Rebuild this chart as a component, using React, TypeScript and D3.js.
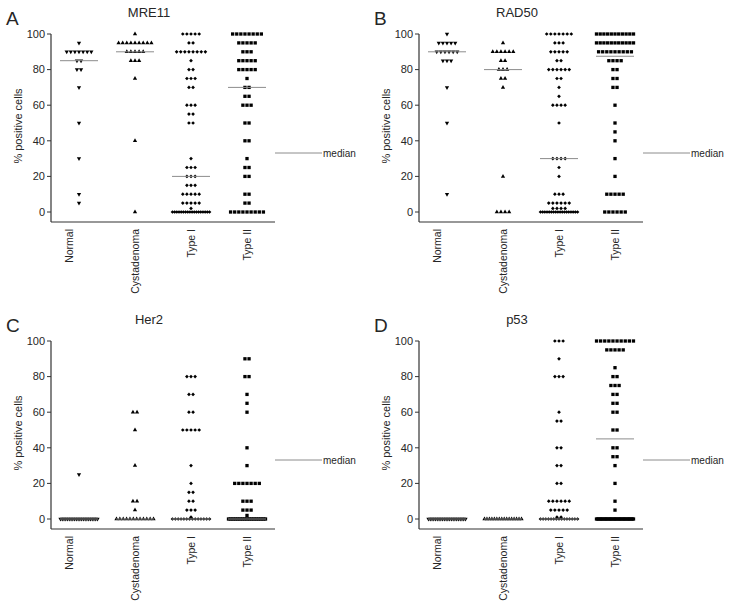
import React from "react";
import * as d3 from "d3";

const categories = ["Normal", "Cystadenoma", "Type I", "Type II"];
const yTicks = [0, 20, 40, 60, 80, 100];
const panelLetters = ["A", "B", "C", "D"];
const panelTitles = ["MRE11", "RAD50", "Her2", "p53"];

// rows: [value (% positive cells), number of cases at that value]
const mre11Normal = [[95, 1], [90, 7], [85, 2], [80, 2], [70, 1], [50, 1], [30, 1], [10, 1], [5, 1]];
const mre11Cyst = [[100, 1], [95, 9], [90, 5], [85, 3], [75, 1], [40, 1], [0, 1]];
const mre11TypeI = [[100, 5], [95, 2], [90, 8], [85, 1], [80, 2], [75, 3], [70, 2], [60, 3], [55, 2], [50, 2], [30, 1], [25, 3], [20, 3], [15, 3], [10, 5], [5, 5], [2, 1], [0, 18]];
const mre11TypeII = [[100, 8], [95, 5], [90, 3], [85, 5], [80, 5], [75, 1], [70, 2], [65, 2], [60, 3], [50, 2], [40, 2], [30, 1], [25, 2], [20, 2], [10, 2], [5, 2], [0, 9]];
const mre11Medians = [85, 90, 20, 70];

const rad50Normal = [[100, 1], [95, 5], [90, 6], [85, 3], [70, 1], [50, 1], [10, 1]];
const rad50Cyst = [[95, 1], [90, 6], [85, 2], [80, 3], [75, 2], [70, 1], [20, 1], [0, 4]];
const rad50TypeI = [[100, 7], [95, 3], [90, 5], [85, 2], [80, 6], [75, 2], [70, 1], [65, 1], [60, 4], [50, 1], [30, 4], [25, 1], [20, 1], [10, 3], [5, 6], [2, 4], [0, 18]];
const rad50TypeII = [[100, 11], [95, 11], [90, 9], [85, 4], [80, 2], [75, 2], [70, 2], [60, 1], [50, 1], [45, 1], [40, 1], [30, 1], [20, 1], [10, 5], [0, 6]];
const rad50Medians = [90, 80, 30, 87.5];

const her2Normal = [[25, 1], [0, 22]];
const her2Cyst = [[60, 2], [50, 1], [30, 1], [10, 2], [5, 1], [0, 12]];
const her2TypeI = [[80, 3], [70, 2], [60, 2], [50, 5], [30, 1], [20, 1], [15, 2], [10, 2], [5, 3], [1, 1], [0, 14]];
const her2TypeII = [[90, 2], [80, 2], [70, 1], [65, 1], [60, 1], [40, 1], [30, 1], [20, 7], [10, 3], [5, 3], [2, 1], [0, 22]];
const her2Medians = [0, 0, 0, 0];

const p53Normal = [[0, 22]];
const p53Cyst = [[0, 16]];
const p53TypeI = [[100, 3], [90, 1], [80, 3], [60, 1], [55, 2], [40, 2], [30, 2], [20, 2], [10, 6], [5, 5], [1, 2], [0, 15]];
const p53TypeII = [[100, 10], [95, 5], [85, 1], [80, 2], [75, 3], [70, 2], [65, 2], [60, 2], [50, 2], [40, 2], [35, 2], [30, 1], [20, 1], [10, 1], [5, 1], [0, 30]];
const p53Medians = [0, 0, 0, 45];

const panelGroups = [
  [mre11Normal, mre11Cyst, mre11TypeI, mre11TypeII],
  [rad50Normal, rad50Cyst, rad50TypeI, rad50TypeII],
  [her2Normal, her2Cyst, her2TypeI, her2TypeII],
  [p53Normal, p53Cyst, p53TypeI, p53TypeII],
];
const panelMedians = [mre11Medians, rad50Medians, her2Medians, p53Medians];

const FONT = "'Liberation Sans', Arial, sans-serif";
const TEXT = "#262626";

const offsets = [
  [0, 0],
  [368, 0],
  [0, 307],
  [368, 307],
];

const triSym = d3.symbol().type(d3.symbolTriangle).size(8)();
const sqSym = d3.symbol().type(d3.symbolSquare).size(11)();
const diaSym = d3.symbol().type(d3.symbolSquare).size(7)();

function Marker({ cat, x, y }: { cat: number; x: number; y: number }) {
  if (cat === 0) return <path d={triSym} transform={`translate(${x},${y}) rotate(180)`} fill="#000" />;
  if (cat === 1) return <path d={triSym} transform={`translate(${x},${y})`} fill="#000" />;
  if (cat === 2) return <path d={diaSym} transform={`translate(${x},${y}) rotate(45)`} fill="#000" />;
  return <path d={sqSym} transform={`translate(${x},${y})`} fill="#000" />;
}

function Panel({ idx }: { idx: number }) {
  const [ox, oy] = offsets[idx];
  const x = d3.scaleBand().domain(categories).range([51, 275]);
  const y = d3.scaleLinear().domain([0, 100]).range([212, 34]);
  const bw = x.bandwidth();
  const groups = panelGroups[idx];
  const medians = panelMedians[idx];
  const marks: JSX.Element[] = [];
  groups.forEach((rows, ci) => {
    const cx = (x(categories[ci]) as number) + bw / 2;
    rows.forEach(([v, n], ri) => {
      const sp = n > 1 ? Math.min(4.1, 37 / (n - 1)) : 0;
      for (let i = 0; i < n; i++) {
        marks.push(<Marker key={`${ci}-${ri}-${i}`} cat={ci} x={cx + (i - (n - 1) / 2) * sp} y={y(v)} />);
      }
    });
  });
  return (
    <g transform={`translate(${ox},${oy})`}>
      <text x={6} y={25} fontSize={19} fontFamily={FONT} fill={TEXT}>{panelLetters[idx]}</text>
      <text x={149} y={17} fontSize={13} textAnchor="middle" fontFamily={FONT} fill={TEXT}>{panelTitles[idx]}</text>
      {/* y axis */}
      <line x1={51} x2={51} y1={y(100)} y2={222} stroke="#333" strokeWidth={1.2} />
      {yTicks.map((t) => (
        <g key={t}>
          <line x1={47} x2={51} y1={y(t)} y2={y(t)} stroke="#333" strokeWidth={1} />
          <text x={45} y={y(t)} dy="0.35em" textAnchor="end" fontSize={11} fontFamily={FONT} fill={TEXT}>{t}</text>
        </g>
      ))}
      <text transform={`translate(18,${(y(100) + y(0)) / 2 + 3}) rotate(-90)`} textAnchor="middle" dy="0.35em" fontSize={11} fontFamily={FONT} fill={TEXT}>% positive cells</text>
      {/* x axis */}
      <line x1={51} x2={275} y1={222} y2={222} stroke="#333" strokeWidth={1.2} />
      {categories.map((c, i) => {
        const cx = (x(c) as number) + bw / 2 + (i === 0 ? -10 : 0);
        return (
          <text key={c} transform={`translate(${cx},229) rotate(-90)`} textAnchor="end" dy="0.35em" fontSize={10.5} fontFamily={FONT} fill={TEXT}>{c}</text>
        );
      })}
      {marks}
      {medians.map((m, i) => {
        const cx = (x(categories[i]) as number) + bw / 2;
        return <line key={i} x1={cx - 19} x2={cx + 19} y1={y(m)} y2={y(m)} stroke="#8c8c8c" strokeWidth={1} />;
      })}
      {/* legend */}
      <line x1={275} x2={322} y1={153} y2={153} stroke="#8c8c8c" strokeWidth={1} />
      <text x={323} y={153} dy="0.35em" fontSize={10} fontFamily={FONT} fill={TEXT}>median</text>
    </g>
  );
}

export default function App() {
  return (
    <svg width={729} height={611} style={{ position: "absolute", left: 0, top: 0, background: "#fff" }}>
      <rect width={729} height={611} fill="#fff" />
      {[0, 1, 2, 3].map((i) => (
        <Panel key={i} idx={i} />
      ))}
    </svg>
  );
}
